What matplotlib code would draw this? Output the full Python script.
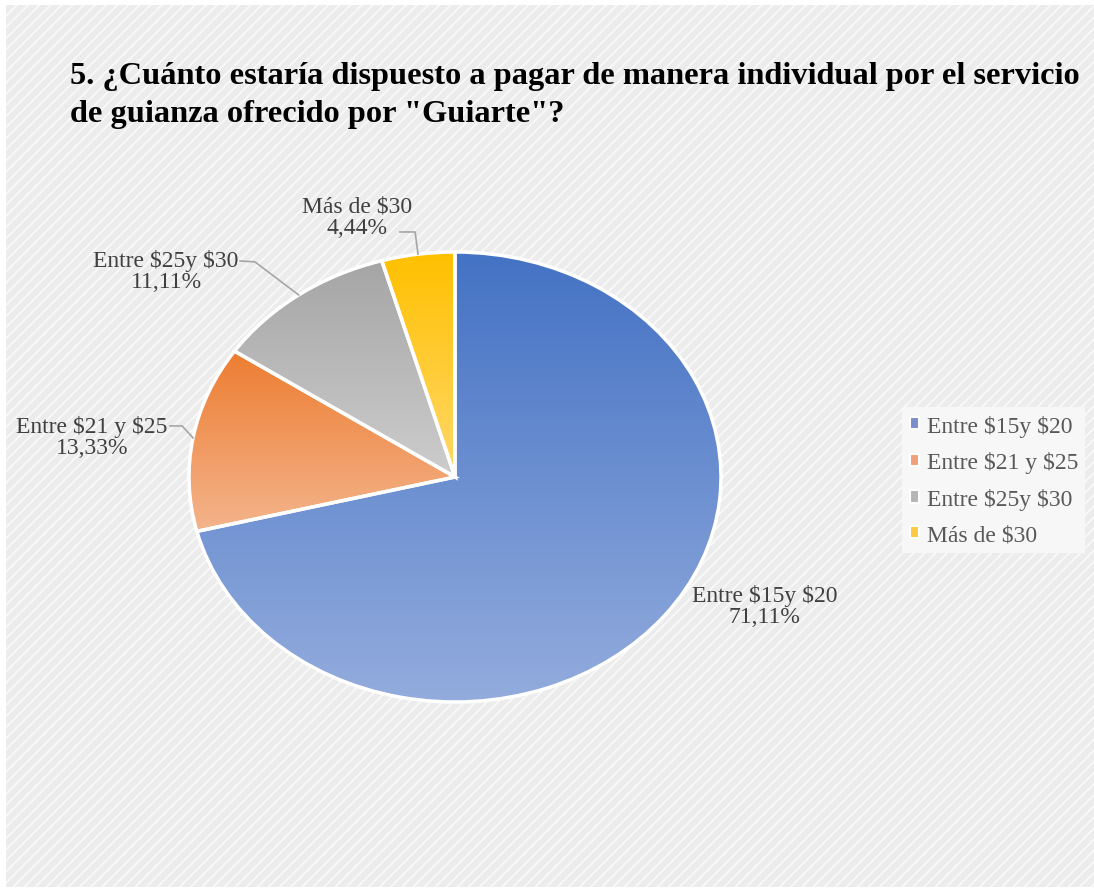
import numpy as np
import matplotlib
matplotlib.use("Agg")
import matplotlib.pyplot as plt
from matplotlib.patches import Rectangle, Patch
from matplotlib.colors import LinearSegmentedColormap

plt.rcParams["font.family"] = ["Liberation Serif", "DejaVu Serif"]
plt.rcParams["text.parse_math"] = False

TITLE = '5. ¿Cuánto estaría dispuesto a pagar de manera individual por el servicio\nde guianza ofrecido por "Guiarte"?'

categories = ["Entre $15y $20", "Entre $21 y $25", "Entre $25y $30", "Más de $30"]
percents = [71.11, 13.33, 11.11, 4.44]
pct_labels = ["71,11%", "13,33%", "11,11%", "4,44%"]

# top / bottom colours for the vertical gradient of each slice
top_colors = ["#4472C4", "#ED7D31", "#A5A5A5", "#FFC000"]
bottom_colors = ["#93ACDD", "#F4B48C", "#CDCDCD", "#FFD86A"]
legend_colors = ["#7C8FCB", "#F0A07A", "#B5B5B5", "#FCCB45"]

# label placement (data coords, pie radius = 1) and elbow of leader lines
label_xy = [(1.165, -0.573), (-1.365, 0.182), (-1.086, 0.916), (-0.368, 1.156)]
leader_pts = [None,
              [(-1.071, 0.227), (-1.026, 0.227)],
              [(-0.808, 0.960), (-0.752, 0.956)],
              [(-0.207, 1.089), (-0.150, 1.089)]]

W, H = 1094, 895
fig = plt.figure(figsize=(W / 100, H / 100), dpi=100)
fig.patch.set_facecolor("white")

# hatched chart background
plt.rcParams["hatch.linewidth"] = 1.2
bg = Rectangle((6 / W, 7 / H), 1 - 6 / W, 1 - 13 / H, transform=fig.transFigure,
               facecolor="#ECECEC", edgecolor="#FAFAFA", linewidth=0, hatch="///", zorder=-5)
fig.patches.append(bg)

fig.text(70 / W, 1 - 62 / H, TITLE, fontsize=23.3, fontweight="bold", color="black",
         va="top", ha="left", linespacing=1.42)

# pie axes (Excel stretched the pie into an ellipse)
ax = fig.add_axes([189 / W, 1 - 703 / H, 532 / W, 450 / H])
ax.set_facecolor("none")
wedges, _ = ax.pie(percents, startangle=90, counterclock=False,
                   colors=top_colors, wedgeprops=dict(edgecolor="white", linewidth=2.5))

for w, ct, cb in zip(wedges, top_colors, bottom_colors):
    ext = w.get_path().get_extents()
    cmap = LinearSegmentedColormap.from_list("g", [cb, ct])
    grad = np.linspace(0, 1, 256).reshape(-1, 1)
    im = ax.imshow(grad, extent=(ext.x0, ext.x1, ext.y0, ext.y1), origin="lower",
                   cmap=cmap, aspect="auto", zorder=1, interpolation="bilinear")
    im.set_clip_path(w)
    w.set_facecolor("none")
    w.set_zorder(2)

ax.set_xlim(-1, 1)
ax.set_ylim(-1, 1)
ax.set_aspect("auto")
ax.axis("off")

# data labels with leader lines
angle = 90.0
for i, (cat, pct, p) in enumerate(zip(categories, pct_labels, percents)):
    span = p / sum(percents) * 360
    mid = np.deg2rad(angle - span / 2)
    angle -= span
    ax.text(label_xy[i][0], label_xy[i][1], cat + "\n" + pct, ha="center", va="center",
            fontsize=17, color="#404040", linespacing=1.0, clip_on=False)
    if leader_pts[i] is not None:
        xs = [leader_pts[i][0][0], leader_pts[i][1][0], np.cos(mid)]
        ys = [leader_pts[i][0][1], leader_pts[i][1][1], np.sin(mid)]
        ax.plot(xs, ys, color="#A6A6A6", lw=1.2, clip_on=False, zorder=3)

handles = [Patch(facecolor=c, edgecolor="white", linewidth=1.5) for c in legend_colors]
leg = fig.legend(handles, categories, loc="upper left", bbox_to_anchor=(902 / W, 1 - 408 / H),
                 fontsize=17, frameon=True, handlelength=0.42, handleheight=0.42,
                 handletextpad=0.3, labelspacing=0.62, borderpad=0.32, borderaxespad=0)
leg.get_frame().set_facecolor("#F7F7F7")
leg.get_frame().set_edgecolor("none")
leg.get_frame().set_alpha(1)
leg.get_frame().set_boxstyle("square", pad=0)
for t in leg.get_texts():
    t.set_color("#595959")

fig.savefig("out.png", dpi=100, facecolor=fig.get_facecolor())
